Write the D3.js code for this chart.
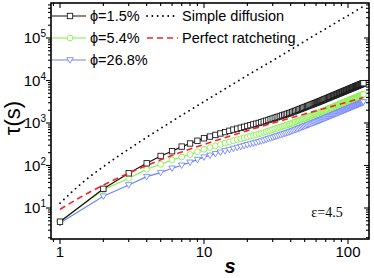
<!DOCTYPE html>
<html>
<head>
<meta charset="utf-8">
<script src="https://cdn.jsdelivr.net/npm/d3@7"></script>
<style>
  body { margin: 0; background: #fff; }
  svg text { font-family: "Liberation Sans", Arial, sans-serif; }
</style>
</head>
<body>
<div id="chart"></div>
<script>
// ----------------------------------
// DATA
// ----------------------------------
const steps = d3.range(1, 129); // s = 1 .. 128

const tauPhi15 = [4.76, 28.3, 65.5, 112.7, 167.5, 216.8, 278.6, 329.6, 382, 436.5,
  480, 524, 568, 611, 655, 698, 736, 774, 813, 851,
  889, 927, 964, 1002, 1040, 1086, 1132, 1178, 1225, 1271,
  1318, 1365, 1412, 1459, 1507, 1555, 1603, 1651, 1700, 1749,
  1807, 1866, 1924, 1983, 2042, 2102, 2162, 2223, 2284, 2347,
  2409, 2472, 2535, 2598, 2662, 2726, 2790, 2855, 2920, 2985,
  3050, 3116, 3182, 3258, 3330, 3402, 3475, 3548, 3622, 3696,
  3770, 3845, 3921, 3996, 4073, 4149, 4226, 4304, 4381, 4460,
  4538, 4617, 4697, 4777, 4857, 4937, 5018, 5100, 5181, 5263,
  5346, 5429, 5512, 5596, 5680, 5764, 5849, 5934, 6019, 6105,
  6191, 6277, 6364, 6451, 6539, 6626, 6714, 6803, 6892, 6981,
  7070, 7160, 7250, 7341, 7431, 7522, 7614, 7705, 7798, 7890,
  7982, 8075, 8169, 8262, 8356, 8450, 8545, 8640];

const tauPhi54 = [4.8, 26.8, 49.9, 81.4, 106.9, 134.6, 158.5, 181.6, 210.5, 240.5,
  264.5, 288.7, 313, 336.7, 360.9, 384.6, 405.5, 426.5, 448, 468.9,
  489.8, 510.8, 531.2, 552.1, 573, 598.4, 623.7, 649.1, 675, 700.3,
  726.2, 752.1, 778, 803.9, 830.4, 856.8, 883.3, 909.7, 936.7, 963.7,
  995.7, 1028, 1060, 1093, 1125, 1158, 1191, 1225, 1258, 1293,
  1327, 1362, 1397, 1432, 1467, 1502, 1537, 1573, 1609, 1645,
  1681, 1717, 1753, 1795, 1835, 1875, 1915, 1955, 1996, 2037,
  2077, 2119, 2160, 2202, 2244, 2286, 2329, 2372, 2414, 2457,
  2500, 2544, 2588, 2632, 2676, 2720, 2765, 2810, 2855, 2900,
  2946, 2991, 3037, 3083, 3130, 3176, 3223, 3270, 3316, 3364,
  3411, 3459, 3507, 3554, 3603, 3651, 3699, 3748, 3797, 3847,
  3896, 3945, 3995, 4045, 4094, 4145, 4195, 4245, 4297, 4347,
  4398, 4449, 4501, 4552, 4604, 4656, 4708, 4761];

const tauPhi268 = [4.43, 18.9, 34.8, 54.6, 67.8, 85.9, 101.1, 118.7, 137.5, 157.1,
  172.8, 188.6, 204.5, 220, 235.8, 251.3, 265, 278.6, 292.7, 306.4,
  320, 333.7, 347, 360.7, 374.4, 391, 407.5, 424.1, 441, 457.6,
  474.5, 491.4, 508.3, 525.2, 542.5, 559.8, 577.1, 594.4, 612, 629.6,
  650.5, 671.8, 692.6, 713.9, 735.1, 756.7, 778.3, 800.3, 822.2, 844.9,
  867.2, 889.9, 912.6, 935.3, 958.3, 981.4, 1004, 1028, 1051, 1075,
  1098, 1122, 1146, 1173, 1199, 1225, 1251, 1277, 1304, 1331,
  1357, 1384, 1412, 1439, 1466, 1494, 1521, 1549, 1577, 1606,
  1634, 1662, 1691, 1720, 1749, 1777, 1806, 1836, 1865, 1895,
  1925, 1954, 1984, 2015, 2045, 2075, 2106, 2136, 2167, 2198,
  2229, 2260, 2291, 2322, 2354, 2385, 2417, 2449, 2481, 2513,
  2545, 2578, 2610, 2643, 2675, 2708, 2741, 2774, 2807, 2840,
  2874, 2907, 2941, 2974, 3008, 3042, 3076, 3110];

// reference curves
const sCurve = [1, 1.5, 2, 3, 4, 5, 7, 10, 15, 20, 31, 50, 80, 128];
const tauDiffusion = [13, 45, 94, 243, 460, 745, 1520, 3190, 7340, 13200, 31500, 84000, 216000, 554000];
const tauRatchet = [9.3, 20.8, 34.6, 66, 100, 136, 208, 313, 490, 662, 1026, 1626, 2541, 3972];

const xTickVals = [1, 10, 100];
const yTickExp = [1, 2, 3, 4, 5];

const seriesNames = ['\u03D5=1.5%', '\u03D5=5.4%', '\u03D5=26.8%'];
const seriesColors = ['#111111', '#80f040', '#6f82ff'];
const seriesShapes = ['square', 'circle', 'triangle'];

// ----------------------------------
// LAYOUT
// ----------------------------------
const width = 374, height = 278;
const frame = {left: 51, right: 369, top: 3, bottom: 239};

const xScale = d3.scaleLog().domain([1, 100]).range([60, 348]);
const yScale = d3.scaleLog().domain([10, 1e5]).range([208, 38]);

const svg = d3.select('#chart').append('svg')
  .attr('width', width)
  .attr('height', height);

svg.append('defs').append('clipPath').attr('id', 'plotClip')
  .append('rect')
  .attr('x', frame.left).attr('y', frame.top)
  .attr('width', frame.right - frame.left)
  .attr('height', frame.bottom - frame.top);

// ----------------------------------
// TICKS
// ----------------------------------
const xDomain = [xScale.invert(frame.left), xScale.invert(frame.right)];
const yDomain = [yScale.invert(frame.bottom), yScale.invert(frame.top)];

function logTicks(lo, hi) {
  const out = [];
  for (let d = Math.floor(Math.log10(lo)); d <= Math.ceil(Math.log10(hi)); d++) {
    for (let k = 1; k <= 9; k++) {
      const v = k * Math.pow(10, d);
      if (v >= lo && v <= hi) out.push({v: v, major: k === 1});
    }
  }
  return out;
}

const ticks = svg.append('g').attr('class', 'ticks')
  .style('stroke', '#000').style('stroke-width', 1.1);

logTicks(xDomain[0], xDomain[1]).forEach(t => {
  const x = xScale(t.v), len = t.major ? 5 : 3;
  ticks.append('line').attr('x1', x).attr('x2', x)
    .attr('y1', frame.bottom).attr('y2', frame.bottom + len);
  ticks.append('line').attr('x1', x).attr('x2', x)
    .attr('y1', frame.top).attr('y2', frame.top + len);
});

logTicks(yDomain[0], yDomain[1]).forEach(t => {
  const y = yScale(t.v), len = t.major ? 5 : 3;
  ticks.append('line').attr('y1', y).attr('y2', y)
    .attr('x1', frame.left).attr('x2', frame.left - len);
  ticks.append('line').attr('y1', y).attr('y2', y)
    .attr('x1', frame.right).attr('x2', frame.right - len);
});

// frame
svg.append('rect')
  .attr('x', frame.left).attr('y', frame.top)
  .attr('width', frame.right - frame.left)
  .attr('height', frame.bottom - frame.top)
  .style('fill', 'none').style('stroke', '#000').style('stroke-width', 1.6);

// tick labels
svg.selectAll('.xlab').data(xTickVals).enter().append('text')
  .attr('class', 'xlab')
  .attr('x', d => xScale(d))
  .attr('y', 257)
  .attr('text-anchor', 'middle')
  .style('font-size', '15px')
  .text(d => d);

const ylab = svg.selectAll('.ylab').data(yTickExp).enter().append('text')
  .attr('class', 'ylab')
  .attr('x', 46)
  .attr('y', d => yScale(Math.pow(10, d)) + 5)
  .attr('text-anchor', 'end')
  .style('font-size', '15px');
ylab.append('tspan').text('10');
ylab.append('tspan').attr('dy', -6).style('font-size', '10px').text(d => d);

// axis titles
svg.append('text')
  .attr('transform', 'translate(20,118) rotate(-90)')
  .attr('text-anchor', 'middle')
  .style('font-size', '22px')
  .text('\u03C4(s)');

svg.append('text')
  .attr('x', 230).attr('y', 273)
  .attr('text-anchor', 'middle')
  .style('font-size', '20px')
  .style('font-style', 'italic')
  .style('font-weight', 'bold')
  .text('s');

svg.append('text')
  .attr('x', 327).attr('y', 217)
  .attr('text-anchor', 'middle')
  .style('font-family', '"Liberation Serif", "Times New Roman", serif')
  .style('font-size', '14px')
  .text('\u03B5=4.5');

// ----------------------------------
// CURVES AND MARKERS
// ----------------------------------
const plot = svg.append('g').attr('clip-path', 'url(#plotClip)');

const line = d3.line()
  .x(d => xScale(d[0]))
  .y(d => yScale(d[1]));

const smooth = d3.line()
  .x(d => xScale(d[0]))
  .y(d => yScale(d[1]))
  .curve(d3.curveMonotoneX);

plot.append('path')
  .datum(d3.zip(sCurve, tauDiffusion))
  .attr('d', smooth)
  .style('fill', 'none')
  .style('stroke', '#000')
  .style('stroke-width', 1.8)
  .style('stroke-linecap', 'round')
  .style('stroke-dasharray', '0.1,5.2');

function marker(g, shape, color, x, y) {
  let m;
  if (shape === 'square') {
    m = g.append('rect').attr('x', x - 2.7).attr('y', y - 2.7).attr('width', 5.4).attr('height', 5.4);
  } else if (shape === 'circle') {
    m = g.append('circle').attr('cx', x).attr('cy', y).attr('r', 2.9);
  } else {
    m = g.append('path').attr('d', `M${x - 3.2},${y - 2.3}L${x + 3.2},${y - 2.3}L${x},${y + 3.2}Z`);
  }
  m.style('fill', '#fff').style('stroke', color).style('stroke-width', 0.85);
}

const seriesData = [tauPhi15, tauPhi54, tauPhi268];

// draw from the bottom series up
[2, 1, 0].forEach(i => {
  const pts = d3.zip(steps, seriesData[i]);
  const g = plot.append('g');
  g.append('path')
    .datum(pts)
    .attr('d', line)
    .style('fill', 'none')
    .style('stroke', seriesColors[i])
    .style('stroke-width', 1.2);
  pts.forEach(p => marker(g, seriesShapes[i], seriesColors[i], xScale(p[0]), yScale(p[1])));
});

plot.append('path')
  .datum(d3.zip(sCurve, tauRatchet))
  .attr('d', smooth)
  .style('fill', 'none')
  .style('stroke', '#ff2020')
  .style('stroke-width', 1.6)
  .style('stroke-dasharray', '6,4');

// ----------------------------------
// LEGEND
// ----------------------------------
const legend = svg.append('g').attr('class', 'legend');
const rowY = [16, 38, 60];

seriesNames.forEach((name, i) => {
  legend.append('line')
    .attr('x1', 52).attr('x2', 86)
    .attr('y1', rowY[i]).attr('y2', rowY[i])
    .style('stroke', seriesColors[i]).style('stroke-width', 1.2);
  marker(legend, seriesShapes[i], seriesColors[i], 70, rowY[i]);
  legend.append('text')
    .attr('x', 90).attr('y', rowY[i] + 5)
    .style('font-size', '14.5px')
    .text(name);
});

legend.append('line')
  .attr('x1', 147).attr('x2', 178).attr('y1', rowY[0]).attr('y2', rowY[0])
  .style('stroke', '#000').style('stroke-width', 1.8)
  .style('stroke-linecap', 'round').style('stroke-dasharray', '0.1,5.2');
legend.append('text')
  .attr('x', 182).attr('y', rowY[0] + 5)
  .style('font-size', '14.5px')
  .text('Simple diffusion');

legend.append('line')
  .attr('x1', 147).attr('x2', 178).attr('y1', rowY[1]).attr('y2', rowY[1])
  .style('stroke', '#ff2020').style('stroke-width', 1.6)
  .style('stroke-dasharray', '6,4');
legend.append('text')
  .attr('x', 182).attr('y', rowY[1] + 5)
  .style('font-size', '14.5px')
  .text('Perfect ratcheting');
</script>
</body>
</html>
